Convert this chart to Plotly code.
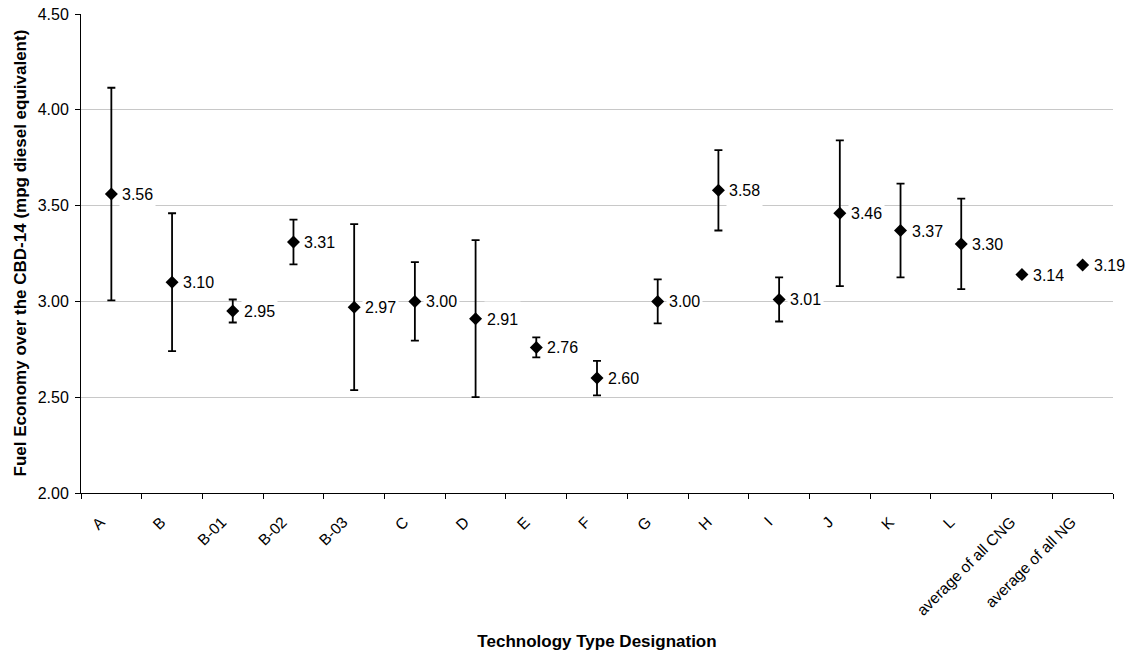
import plotly.graph_objects as go

categories = ["A", "B", "B-01", "B-02", "B-03", "C", "D", "E", "F", "G", "H",
              "I", "J", "K", "L", "average of all CNG", "average of all NG"]
fuel_economy = [3.56, 3.10, 2.95, 3.31, 2.97, 3.00, 2.91, 2.76, 2.60, 3.00,
                3.58, 3.01, 3.46, 3.37, 3.30, 3.14, 3.19]
error_half = [0.555, 0.36, 0.06, 0.117, 0.433, 0.205, 0.41, 0.052, 0.09, 0.115,
              0.21, 0.115, 0.38, 0.245, 0.236, None, None]
y_ticks = [2.0, 2.5, 3.0, 3.5, 4.0, 4.5]
x_title = "Technology Type Designation"
y_title = "Fuel Economy over the CBD-14 (mpg diesel equivalent)"

FONT = "Arial, Liberation Sans, sans-serif"

fig = go.Figure()
fig.add_trace(go.Scatter(
    x=categories, y=fuel_economy, mode="markers",
    marker=dict(symbol="diamond", size=10, color="black"),
    error_y=dict(type="data", array=error_half, visible=True,
                 color="black", thickness=1.8, width=4),
    showlegend=False, hoverinfo="x+y", cliponaxis=False,
))

for c, v in zip(categories, fuel_economy):
    fig.add_annotation(
        x=c, y=v, xref="x", yref="y", text=f"{v:.2f}", showarrow=False,
        xanchor="left", yanchor="middle", xshift=8,
        bgcolor="white", borderpad=2, height=30,
        font=dict(family=FONT, size=16, color="black"),
    )

# y-axis title placed as a rotated annotation left of the tick labels
fig.add_annotation(
    x=0, y=0.5, xref="paper", yref="paper", text=f"<b>{y_title}</b>",
    showarrow=False, textangle=-90, xanchor="center", yanchor="middle",
    xshift=-61, font=dict(family=FONT, size=17, color="black"),
)

fig.update_layout(
    width=1130, height=656,
    margin=dict(l=81, r=17, t=14, b=163),
    plot_bgcolor="white", paper_bgcolor="white",
    font=dict(family=FONT, color="black"),
)
fig.update_xaxes(
    type="category", tickson="boundaries", ticks="outside", ticklen=5,
    tickcolor="black", tickwidth=1, showline=True, linecolor="black",
    linewidth=1, showgrid=False, tickangle=-45, automargin=False,
    ticklabelshift=-11, ticklabelstandoff=13, ticklabeloverflow="allow",
    tickfont=dict(family=FONT, size=15.5, color="black"),
    title=dict(text=f"<b>{x_title}</b>",
               font=dict(family=FONT, size=17, color="black"), standoff=17),
    range=[-0.5, len(categories) - 0.5],
)
fig.update_yaxes(
    range=[2.0, 4.5], tickvals=y_ticks, tickformat=".2f", ticks="outside",
    ticklen=5, tickcolor="black", tickwidth=1, showline=True,
    linecolor="black", linewidth=1, showgrid=True, gridcolor="#c8c8c8",
    gridwidth=1, zeroline=False, automargin=False, ticklabeloverflow="allow",
    ticklabelstandoff=3,
    tickfont=dict(family=FONT, size=16, color="black"),
)

# remove the page's default body margin so the figure fills the window exactly
fig.write_html("out.html", config={"displayModeBar": False},
               post_script="document.body.style.margin='0';")
